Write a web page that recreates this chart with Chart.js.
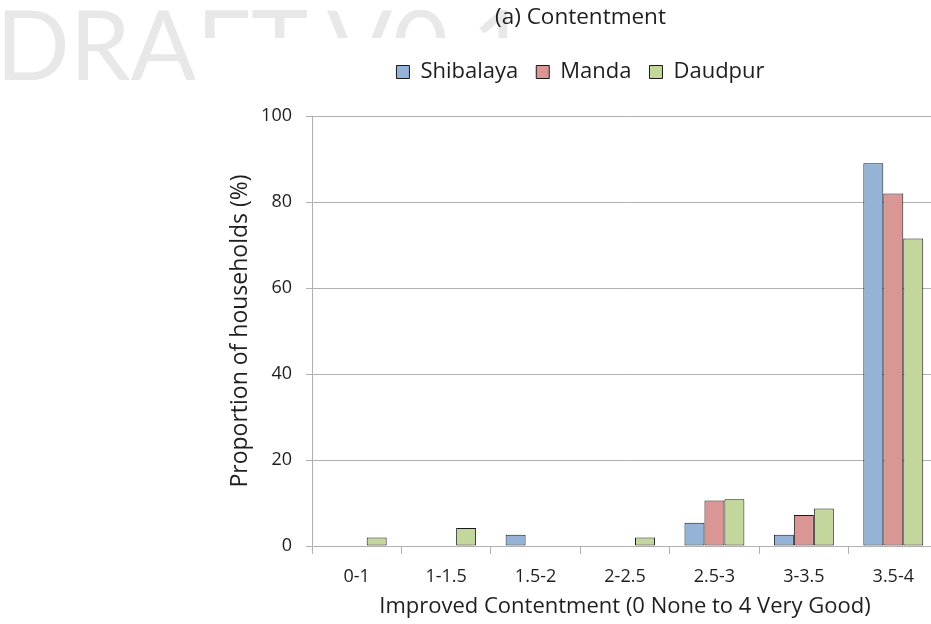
<!DOCTYPE html>
<html>
<head>
<meta charset="utf-8">
<script src="https://cdn.jsdelivr.net/npm/chart.js@4.4.0/dist/chart.umd.min.js"></script>
<style>
  html, body { margin: 0; padding: 0; width: 931px; height: 624px; overflow: hidden; background: #fff; }
  #mark {
    position: absolute; left: -4px; top: -6px;
    font-family: Lato, sans-serif; font-weight: 400; font-size: 97px; line-height: 1;
    color: #e8e8e8; white-space: nowrap;
  }
  #box { position: absolute; left: 195px; top: 0; width: 770px; height: 624px; }
</style>
</head>
<body>
<div id="mark">DRAFT V0.1</div>
<div id="box"><canvas id="c" width="770" height="624"></canvas></div>
<script>
// Household contentment score bands
const categories = ['0-1', '1-1.5', '1.5-2', '2-2.5', '2.5-3', '3-3.5', '3.5-4'];

// Proportion of households (%) per site
const shibalaya = [0, 0, 2.6, 0, 5.4, 2.6, 89.0];
const manda     = [0, 0, 0, 0, 10.6, 7.2, 82.0];
const daudpur   = [2.0, 4.2, 0, 2.0, 10.9, 8.7, 71.5];

const yTicks = [0, 20, 40, 60, 80, 100];

const FONT = '"Open Sans", Lato, sans-serif';
const TEXT = '#1e1e1e';
const GRID = '#b0b0b0';

// white panel under the plot, leaving the strip above it transparent
const panel = {
  id: 'panel',
  beforeDraw(chart) {
    const ctx = chart.ctx;
    ctx.save();
    ctx.fillStyle = '#ffffff';
    ctx.fillRect(0, 38, chart.width, chart.height - 38);
    ctx.restore();
  }
};

function series(label, data, color) {
  return {
    label, data,
    backgroundColor: color,
    borderColor: '#1a1a1a',
    borderWidth: 1,
    borderSkipped: false,
    categoryPercentage: 0.67,
    barPercentage: 1.0
  };
}

new Chart(document.getElementById('c'), {
  type: 'bar',
  data: {
    labels: categories,
    datasets: [
      series('Shibalaya', shibalaya, '#95b3d7'),
      series('Manda', manda, '#d99694'),
      series('Daudpur', daudpur, '#c3d69b')
    ]
  },
  plugins: [panel],
  options: {
    responsive: false,
    devicePixelRatio: 1,
    animation: false,
    layout: { padding: { left: 28, right: 27, top: 0, bottom: 0 } },
    plugins: {
      title: {
        display: true,
        text: '(a) Contentment',
        color: TEXT,
        font: { family: FONT, size: 22.5, weight: 'normal' },
        padding: { top: 4, bottom: 12 }
      },
      // empty spacer between the legend and the plot
      subtitle: {
        display: true,
        text: '',
        weight: 500,
        font: { family: FONT, size: 20, lineHeight: 1.15 },
        padding: 0
      },
      legend: {
        display: true,
        position: 'top',
        labels: {
          color: TEXT,
          font: { family: FONT, size: 22 },
          boxWidth: 13,
          boxHeight: 13,
          padding: 18
        }
      },
      tooltip: { enabled: false }
    },
    scales: {
      x: {
        afterFit(scale) { scale.height = 78; },
        grid: {
          display: true,
          drawOnChartArea: false,
          drawTicks: true,
          tickLength: 8,
          color: GRID,
          offset: true
        },
        border: { display: true, color: GRID, width: 1 },
        ticks: {
          color: TEXT,
          font: { family: FONT, size: 18 },
          padding: 12,
          maxRotation: 0
        },
        title: {
          display: true,
          text: 'Improved Contentment (0 None to 4 Very Good)',
          color: TEXT,
          font: { family: FONT, size: 22 },
          padding: { top: 0, bottom: 4 }
        }
      },
      y: {
        min: 0,
        max: 100,
        afterFit(scale) { scale.width = 89; },
        afterBuildTicks(scale) { scale.ticks = yTicks.map(v => ({ value: v })); },
        grid: { color: GRID, tickLength: 6, lineWidth: 1 },
        border: { display: true, color: GRID, width: 1 },
        ticks: {
          color: TEXT,
          font: { family: FONT, size: 18 },
          padding: 14
        },
        title: {
          display: true,
          text: 'Proportion of households (%)',
          color: TEXT,
          font: { family: FONT, size: 23 },
          padding: { top: 4, bottom: 4 }
        }
      }
    }
  }
});
</script>
</body>
</html>
